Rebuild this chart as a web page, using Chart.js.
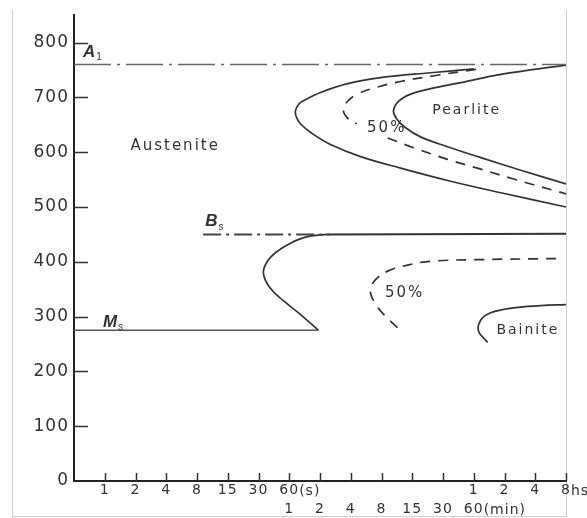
<!DOCTYPE html>
<html>
<head>
<meta charset="utf-8">
<script src="https://cdn.jsdelivr.net/npm/chart.js@4.4.1/dist/chart.umd.min.js"></script>
<style>
  html, body { margin: 0; padding: 0; background: #fff; }
  #wrap { width: 587px; height: 518px; }
</style>
</head>
<body>
<div id="wrap"><canvas id="ttt"></canvas></div>
<script>
// x = position index on the (log) time axis, 0 is the origin, 1..16 are the tick marks
const xTickPos = [1, 2, 3, 4, 5, 6, 7, 8, 9, 10, 11, 12, 13, 14, 15, 16];
const xRowSec  = ['1', '2', '4', '8', '15', '30', '60', '', '', '', '', '', '1', '2', '4', '8'];
const xRowMin  = ['', '', '', '', '', '', '1', '2', '4', '8', '15', '30', '60', '', '', ''];
const yTicks   = [0, 100, 200, 300, 400, 500, 600, 700, 800];

// temperature lines
const a1X = [0, 16],       a1Y = [760, 760];
const bsX = [4.2, 8.3],    bsY = [450, 450];
const msX = [0, 7.95],     msY = [275, 275];
const bTopX = [8.2, 16],   bTopY = [450, 451];

// pearlite start / 50% / finish
const pStartX = [13.0, 11.6, 9.97, 8.9, 8.02, 7.5, 7.3, 7.2, 7.24, 7.38, 7.72, 8.34, 9.32, 10.62, 12.25, 13.88, 16];
const pStartY = [752, 745, 736, 725, 709, 695, 687, 675, 663, 651, 635, 614, 592, 571, 547, 526, 500];
const pHalfX  = [13.07, 11.76, 10.62, 9.81, 9.22, 8.9, 8.76, 8.9, 9.19, 9.7, 10.2, 11.05, 12.15, 13.23, 14.3, 16];
const pHalfY  = [751, 740, 729, 718, 706, 693, 676, 662, 652, null, 626, 608, 587, 569, 551, 524];
const pEndX   = [16, 13.88, 12.58, 11.6, 10.95, 10.56, 10.39, 10.49, 10.75, 11.27, 12.15, 13.23, 14.53, 16];
const pEndY   = [759, 742, 727, 716, 706, 693, 676, 661, 646, 628, 610, 590, 567, 542];

// bainite start / 50% / finish
const bStartX = [7.95, 7.36, 6.81, 6.38, 6.16, 6.29, 6.61, 7.04, 7.53, 8.2];
const bStartY = [275, 304, 329, 352, 379, 401, 419, 434, 445, 450];
const bHalfX  = [10.52, 10.07, 9.74, 9.64, 9.8, 10.2, 10.85, 11.6, 13.22, 15.93];
const bHalfY  = [280, 304, 329, 349, 367, 383, 394, 401, 404, 406];
const bEndX   = [13.45, 13.16, 13.22, 13.55, 14.3, 15.18, 16];
const bEndY   = [253, 273, 293, 307, 316, 320, 322];

const pts = (xs, ys) => xs.map((x, i) => ({ x: x, y: ys[i] }));

const INK = '#333';

function line(data, opts) {
    return Object.assign({
        data: data,
        showLine: true,
        pointRadius: 0,
        borderColor: INK,
        borderWidth: 1.7,
        tension: 0.4,
        spanGaps: false
    }, opts);
}

// region labels, anchored in data units
const regionLabels = [
    { text: 'Austenite', x: 3.29, y: 612, size: 15 },
    { text: 'Pearlite',  x: 12.77, y: 677, size: 14 },
    { text: '50%',       x: 10.17, y: 644, size: 15 },
    { text: '50%',       x: 10.75, y: 342, size: 15 },
    { text: 'Bainite',   x: 14.76, y: 275, size: 14 }
];
const symLabels = [
    { main: 'A', sub: '1', x: 0.29, y: 783 },
    { main: 'B', sub: 's', x: 4.27, y: 473 },
    { main: 'M', sub: 's', x: 0.94, y: 290 }
];

const decor = {
    id: 'decor',
    beforeDraw(chart) {
        const ctx = chart.ctx;
        ctx.save();
        ctx.fillStyle = '#fff';
        ctx.fillRect(0, 0, chart.width, chart.height);
        // thin frame of the scanned figure
        ctx.strokeStyle = '#d0d0d0';
        ctx.lineWidth = 1;
        ctx.beginPath();
        ctx.moveTo(12.5, 10); ctx.lineTo(12.5, 516.5); ctx.lineTo(566.5, 516.5); ctx.lineTo(566.5, 10);
        ctx.stroke();
        ctx.restore();
        ctx.letterSpacing = '1px';
    },
    afterDraw(chart) {
        const ctx = chart.ctx;
        const xs = chart.scales.x, ys = chart.scales.y;
        const area = chart.chartArea;
        ctx.save();
        ctx.strokeStyle = INK;
        ctx.lineWidth = 1.5;
        ctx.beginPath();
        yTicks.forEach(v => {
            if (v === 0) return;
            const py = Math.round(ys.getPixelForValue(v)) + 0.5;
            ctx.moveTo(area.left, py); ctx.lineTo(area.left + 14, py);
        });
        xTickPos.forEach(v => {
            const px = Math.round(xs.getPixelForValue(v)) + 0.5;
            ctx.moveTo(px, area.bottom); ctx.lineTo(px, area.bottom - 8);
        });
        ctx.stroke();

        // unit suffixes next to the tick numbers
        ctx.fillStyle = INK;
        ctx.font = '14px "DejaVu Sans"';
        ctx.letterSpacing = '1px';
        ctx.textAlign = 'left';
        ctx.textBaseline = 'middle';
        const suffix = (val, row, num, txt) => {
            const w = ctx.measureText(num).width;
            const px = xs.getPixelForValue(val) + w / 2;
            ctx.fillText(txt, px, area.bottom + 10 + row * 19);
        };
        suffix(7, 0, '60', '(s)');
        suffix(13, 1, '60', '(min)');
        suffix(16, 0, '8', 'hs');

        // region labels
        ctx.textAlign = 'center';
        ctx.letterSpacing = '2px';
        regionLabels.forEach(l => {
            ctx.font = l.size + 'px "DejaVu Sans"';
            ctx.fillText(l.text, xs.getPixelForValue(l.x), ys.getPixelForValue(l.y));
        });

        // A1, Bs, Ms
        ctx.textAlign = 'left';
        ctx.letterSpacing = '0px';
        symLabels.forEach(l => {
            const px = xs.getPixelForValue(l.x), py = ys.getPixelForValue(l.y);
            ctx.font = 'bold italic 17px "Liberation Sans"';
            ctx.fillText(l.main, px, py);
            const w = ctx.measureText(l.main).width;
            ctx.font = '10px "Liberation Sans"';
            ctx.fillText(l.sub, px + w + 1, py + 5);
        });
        ctx.restore();
    }
};

new Chart(document.getElementById('ttt'), {
    type: 'scatter',
    data: {
        datasets: [
            line(pts(a1X, a1Y), { borderColor: '#666', borderWidth: 1.5, borderDash: [37, 6, 3, 6], tension: 0 }),
            line(pts(bsX, bsY), { borderColor: '#444', borderWidth: 2, borderDash: [18, 5, 3, 5], tension: 0 }),
            line(pts(msX, msY), { borderColor: '#555', borderWidth: 1.5, tension: 0 }),
            line(pts(bTopX, bTopY), { tension: 0, borderWidth: 2 }),
            line(pts(pStartX, pStartY)),
            line(pts(pHalfX, pHalfY), { borderDash: [10, 8] }),
            line(pts(pEndX, pEndY)),
            line(pts(bStartX, bStartY)),
            line(pts(bHalfX, bHalfY), { borderDash: [10, 8] }),
            line(pts(bEndX, bEndY))
        ]
    },
    options: {
        responsive: true,
        maintainAspectRatio: false,
        animation: false,
        layout: { padding: { top: 9, right: 21, left: 0, bottom: 0 } },
        plugins: {
            legend: { display: false },
            tooltip: { enabled: false }
        },
        scales: {
            x: {
                type: 'linear',
                min: 0,
                max: 16,
                afterBuildTicks: s => { s.ticks = xTickPos.map(v => ({ value: v })); },
                afterFit: s => { s.height = 37; },
                grid: { display: true, drawOnChartArea: false, drawTicks: false },
                border: { color: '#222', width: 2 },
                ticks: {
                    autoSkip: false,
                    maxRotation: 0,
                    padding: 0,
                    color: INK,
                    font: { family: 'DejaVu Sans', size: 14, lineHeight: 1.36 },
                    callback: v => {
                        const i = xTickPos.indexOf(v);
                        return [xRowSec[i], xRowMin[i]];
                    }
                }
            },
            y: {
                min: 0,
                max: 850,
                afterBuildTicks: s => { s.ticks = yTicks.map(v => ({ value: v })); },
                afterFit: s => { s.width = 74; },
                grid: { display: true, drawOnChartArea: false, drawTicks: false },
                border: { color: '#222', width: 2 },
                ticks: {
                    padding: 5,
                    color: INK,
                    font: { family: 'DejaVu Sans', size: 17 }
                }
            }
        }
    },
    plugins: [decor]
});
</script>
</body>
</html>
